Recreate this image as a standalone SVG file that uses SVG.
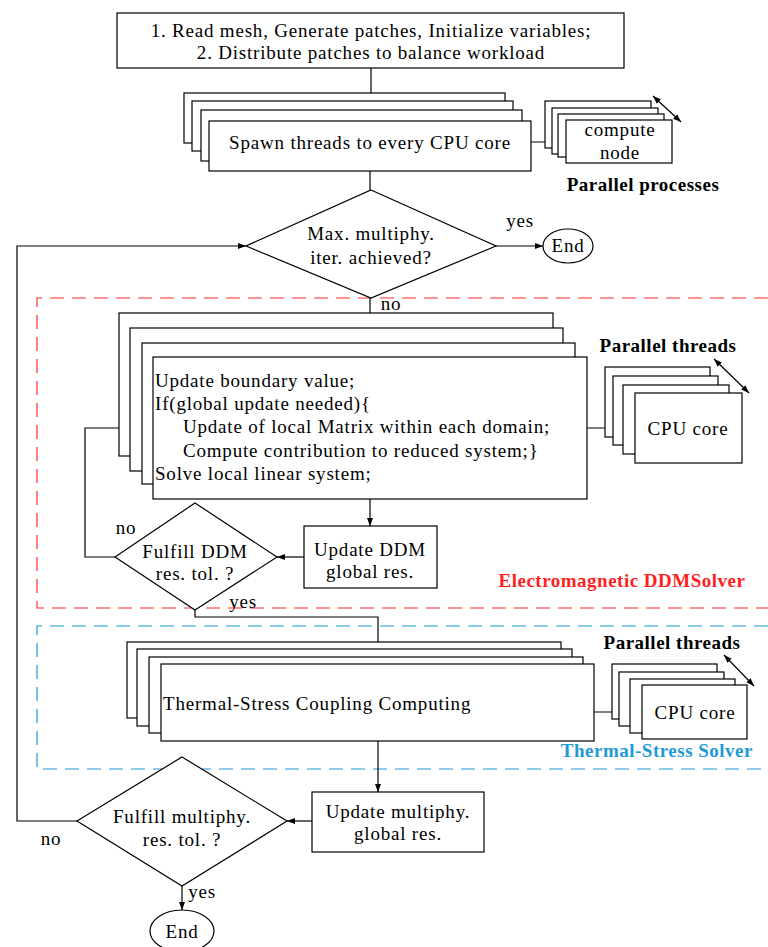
<svg xmlns="http://www.w3.org/2000/svg" width="768" height="947" viewBox="0 0 768 947">
<defs>
<marker id="ah" viewBox="0 0 8 8" refX="8" refY="4" markerWidth="8" markerHeight="8" markerUnits="userSpaceOnUse" orient="auto">
<path d="M0,1 L8,4 L0,7 z" fill="#000"/>
</marker>
<marker id="ahs" viewBox="0 0 8 8" refX="0" refY="4" markerWidth="8" markerHeight="8" markerUnits="userSpaceOnUse" orient="auto">
<path d="M8,1 L0,4 L8,7 z" fill="#000"/>
</marker>
</defs>
<style>
.b{fill:#fff;stroke:#000;stroke-width:1.2}
.c{fill:none;stroke:#000;stroke-width:1.2}
.t{font-family:"Liberation Serif","Times New Roman",serif;font-size:19px;letter-spacing:0.8px;fill:#000}
.m{text-anchor:middle}
.bold{font-weight:bold;letter-spacing:0.5px}
.red{fill:none;stroke:#ff2a2a;stroke-width:1.2;stroke-dasharray:14 8}
.blue{fill:none;stroke:#1f9ad8;stroke-width:1.2;stroke-dasharray:14 8}
</style>
<rect width="768" height="947" fill="#fff"/>

<g id="regions">
<path class="red" d="M768,298 H37 V608 H768"/>
<path class="blue" d="M768,626 H37 V769 H768"/>
</g>

<g id="connectors">
<path class="c" d="M371,68 V121" marker-end="url(#ah)"/>
<path class="c" d="M531,142 H566" marker-end="url(#ah)"/>
<path class="c" d="M370,171 V190"/>
<path class="c" d="M496,246 H543" marker-end="url(#ah)"/>
<path class="c" d="M77,821 H17 V246 H246" marker-end="url(#ah)"/>
<path class="c" d="M370,298 V357" marker-end="url(#ah)"/>
<path class="c" d="M587,428 H635"/>
<path class="c" d="M370,499 V526" marker-end="url(#ah)"/>
<path class="c" d="M304,557 H277" marker-end="url(#ah)"/>
<path class="c" d="M115,557 H85 V428 H153" marker-end="url(#ah)"/>
<path class="c" d="M195,610 V617 H378 V664" marker-end="url(#ah)"/>
<path class="c" d="M594,712 H642"/>
<path class="c" d="M378,741 V792" marker-end="url(#ah)"/>
<path class="c" d="M312,821 H287" marker-end="url(#ah)"/>
<path class="c" d="M182,886 V910" marker-end="url(#ah)"/>
<path class="c" d="M653,96 L681,122" marker-start="url(#ahs)" marker-end="url(#ah)"/>
<path class="c" d="M714,359 L749,393" marker-start="url(#ahs)" marker-end="url(#ah)"/>
<path class="c" d="M724,655 L754,686" marker-start="url(#ahs)" marker-end="url(#ah)"/>
</g>

<g id="init">
<rect class="b" x="117" y="13" width="507" height="55"/>
<text class="t m" x="371" y="37">1. Read mesh, Generate patches, Initialize variables;</text>
<text class="t m" x="371" y="59">2. Distribute patches to balance workload</text>
</g>

<g id="spawn">
<rect class="b" x="184" y="93" width="321" height="50"/>
<rect class="b" x="192" y="101" width="321" height="50"/>
<rect class="b" x="201" y="110" width="321" height="51"/>
<rect class="b" x="209" y="121" width="322" height="50"/>
<text class="t m" x="370" y="149">Spawn threads to every CPU core</text>
</g>

<g id="computenode">
<rect class="b" x="545" y="101" width="106" height="47"/>
<rect class="b" x="552" y="108" width="106" height="46"/>
<rect class="b" x="558" y="114" width="106" height="43"/>
<rect class="b" x="566" y="120" width="106" height="43"/>
<text class="t m" x="620" y="136">compute</text>
<text class="t m" x="620" y="159">node</text>
<text class="t m bold" x="643" y="191">Parallel processes</text>
</g>

<g id="maxiter">
<path class="b" d="M371,190 L496,246 L371,298 L246,246 z"/>
<text class="t m" x="371" y="240">Max. multiphy.</text>
<text class="t m" x="371" y="264">iter. achieved?</text>
<text class="t m" x="520" y="227">yes</text>
<text class="t m" x="391" y="310">no</text>
</g>

<g id="end1">
<ellipse class="b" cx="568" cy="246" rx="25" ry="17"/>
<text class="t m" x="568" y="252">End</text>
</g>

<g id="emstack">
<rect class="b" x="119" y="313" width="434" height="143"/>
<rect class="b" x="130" y="328" width="433" height="143"/>
<rect class="b" x="142" y="343" width="433" height="141"/>
<rect class="b" x="153" y="357" width="434" height="142"/>
<text class="t" x="155" y="387">Update boundary value;</text>
<text class="t" x="155" y="410">If(global update needed){</text>
<text class="t" x="183" y="433">Update of local Matrix within each domain;</text>
<text class="t" x="183" y="457">Compute contribution to reduced system;}</text>
<text class="t" x="155" y="480">Solve local linear system;</text>
</g>

<g id="cpu1">
<rect class="b" x="605" y="367" width="105" height="70"/>
<rect class="b" x="613" y="376" width="105" height="69"/>
<rect class="b" x="623" y="385" width="106" height="69"/>
<rect class="b" x="635" y="393" width="107" height="70"/>
<text class="t m" x="688" y="435">CPU core</text>
<text class="t m bold" x="668" y="352">Parallel threads</text>
</g>

<g id="ddmupdate">
<rect class="b" x="304" y="526" width="133" height="62"/>
<text class="t m" x="370" y="556">Update DDM</text>
<text class="t m" x="370" y="578">global res.</text>
</g>

<g id="ddmcheck">
<path class="b" d="M195,503 L277,557 L195,610 L115,557 z"/>
<text class="t m" x="195" y="558">Fulfill DDM</text>
<text class="t m" x="195" y="580">res. tol. ?</text>
<text class="t m" x="126" y="534">no</text>
<text class="t m" x="243" y="608">yes</text>
</g>

<text class="t m bold" x="622" y="587" style="fill:#ff1f1f">Electromagnetic DDMSolver</text>

<g id="thermal">
<rect class="b" x="127" y="642" width="434" height="76"/>
<rect class="b" x="137" y="649" width="435" height="77"/>
<rect class="b" x="149" y="657" width="434" height="76"/>
<rect class="b" x="161" y="664" width="433" height="77"/>
<text class="t" x="163" y="710">Thermal-Stress Coupling Computing</text>
</g>

<g id="cpu2">
<rect class="b" x="612" y="664" width="105" height="55"/>
<rect class="b" x="619" y="672" width="105" height="54"/>
<rect class="b" x="630" y="679" width="105" height="54"/>
<rect class="b" x="642" y="685" width="105" height="54"/>
<text class="t m" x="695" y="719">CPU core</text>
<text class="t m bold" x="672" y="649">Parallel threads</text>
</g>

<text class="t bold" x="753" y="757" text-anchor="end" style="fill:#1f9ad8">Thermal-Stress Solver</text>

<g id="multiupdate">
<rect class="b" x="312" y="792" width="172" height="60"/>
<text class="t m" x="398" y="818">Update multiphy.</text>
<text class="t m" x="398" y="840">global res.</text>
</g>

<g id="multicheck">
<path class="b" d="M182,757 L287,821 L182,886 L77,821 z"/>
<text class="t m" x="182" y="823">Fulfill multiphy.</text>
<text class="t m" x="182" y="846">res. tol. ?</text>
<text class="t m" x="51" y="845">no</text>
<text class="t m" x="202" y="898">yes</text>
</g>

<g id="end2">
<ellipse class="b" cx="182" cy="931" rx="32" ry="21"/>
<text class="t m" x="182" y="938">End</text>
</g>
</svg>
